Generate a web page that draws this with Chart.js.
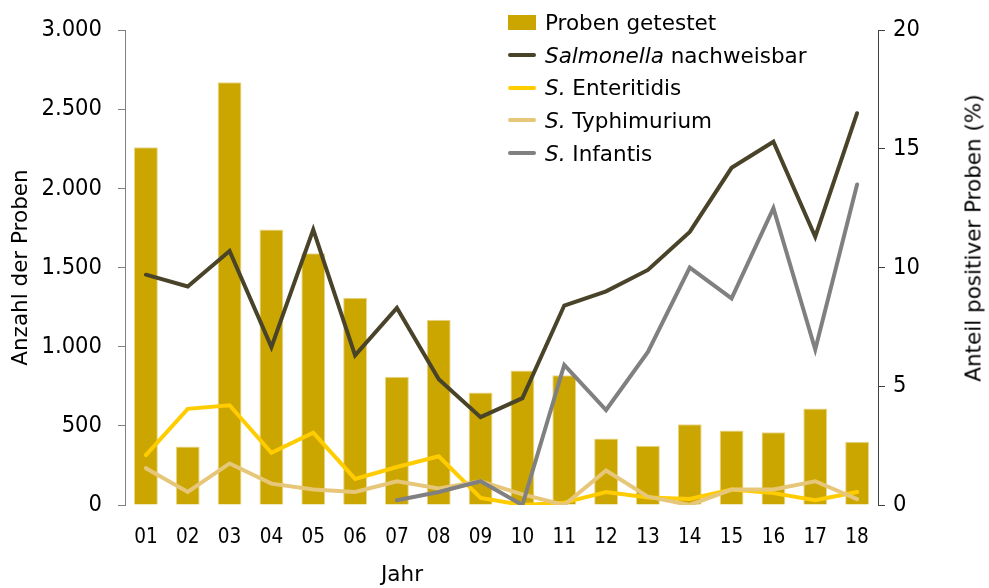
<!DOCTYPE html>
<html lang="de">

<head>
    <meta charset="UTF-8">
    <title>Salmonella Proben</title>
    <script src="https://cdn.jsdelivr.net/npm/chart.js"></script>
    <style>
        body {
            margin: 0;
            background: #fff;
            font-family: "DejaVu Sans", Verdana, sans-serif;
        }
        #wrap {
            position: relative;
            width: 989px;
            height: 588px;
        }
        #legend {
            position: absolute;
            left: 508px;
            top: 6px;
            font-size: 21.5px;
            color: #000;
        }
        #legend .row {
            height: 32.7px;
            display: flex;
            align-items: center;
        }
        #legend .sw {
            width: 28px;
            margin-right: 9px;
        }
        #xtitle {
            position: absolute;
            left: 381px;
            top: 561px;
            font-size: 21.5px;
        }
        #ytitle2 {
            position: absolute;
            left: 973px;
            top: 238px;
            font-size: 21.5px;
            white-space: nowrap;
            transform: translate(-50%, -50%) rotate(-90deg);
        }
    </style>
</head>

<body>
    <div id="wrap">
        <canvas id="chart" width="989" height="588"></canvas>
        <div id="legend"></div>
        <div id="xtitle">Jahr</div>
        <div id="ytitle2">Anteil positiver Proben (%)</div>
    </div>

    <script>
        // Jahre (x-Achse)
        const years = ['01', '02', '03', '04', '05', '06', '07', '08', '09', '10', '11', '12', '13', '14', '15', '16', '17', '18'];

        // Anzahl getesteter Proben (linke Achse)
        const probenGetestet = [2260, 370, 2670, 1740, 1590, 1310, 810, 1170, 710, 850, 820, 420, 375, 510, 470, 460, 610, 400];

        // Anteil positiver Proben in % (rechte Achse)
        const salmonella = [9.7, 9.2, 10.7, 6.65, 11.6, 6.3, 8.3, 5.3, 3.7, 4.5, 8.4, 9.0, 9.9, 11.5, 14.2, 15.3, 11.3, 16.5];
        const enteritidis = [2.1, 4.05, 4.2, 2.2, 3.05, 1.1, 1.6, 2.05, 0.3, 0.0, 0.1, 0.55, 0.32, 0.25, 0.65, 0.5, 0.2, 0.55];
        const typhimurium = [1.55, 0.55, 1.75, 0.9, 0.65, 0.55, 1.0, 0.7, 1.0, 0.45, 0.0, 1.45, 0.35, 0.0, 0.65, 0.65, 1.0, 0.25];
        const infantis = [null, null, null, null, null, null, 0.2, 0.55, 1.0, 0.0, 5.9, 4.0, 6.45, 10.0, 8.7, 12.5, 6.55, 13.5];

        const leftTicks = [0, 500, 1000, 1500, 2000, 2500, 3000];
        const rightTicks = [0, 5, 10, 15, 20];

        const colBar = '#CCA600';
        const colSalm = '#484329';
        const colEnt = '#FFCC00';
        const colTyph = '#E6C77A';
        const colInf = '#808080';

        const tickFont = '"DejaVu Sans Condensed", "DejaVu Sans", sans-serif';

        function fmtThousand(v) {
            return String(v).replace(/\B(?=(\d{3})+(?!\d))/g, '.');
        }

        const ctx = document.getElementById('chart').getContext('2d');
        Chart.defaults.font.family = '"DejaVu Sans", Verdana, sans-serif';
        Chart.defaults.color = '#000';

        const lineDefaults = {
            type: 'line',
            yAxisID: 'y1',
            borderWidth: 4,
            pointRadius: 0,
            tension: 0,
            fill: false,
            borderJoinStyle: 'miter',
            borderCapStyle: 'round',
            spanGaps: false
        };

        const chart = new Chart(ctx, {
            data: {
                labels: years,
                datasets: [
                    { ...lineDefaults, label: 'S. Infantis', data: infantis, borderColor: colInf, order: 1 },
                    { ...lineDefaults, label: 'S. Typhimurium', data: typhimurium, borderColor: colTyph, order: 2 },
                    { ...lineDefaults, label: 'S. Enteritidis', data: enteritidis, borderColor: colEnt, order: 3 },
                    { ...lineDefaults, label: 'Salmonella nachweisbar', data: salmonella, borderColor: colSalm, order: 4 },
                    {
                        type: 'bar',
                        label: 'Proben getestet',
                        data: probenGetestet,
                        yAxisID: 'y',
                        backgroundColor: colBar,
                        borderColor: '#E9D58C',
                        borderWidth: 1,
                        categoryPercentage: 1,
                        barPercentage: 0.57,
                        order: 5
                    }
                ]
            },
            options: {
                responsive: false,
                animation: false,
                layout: { padding: { top: 27, left: 0, right: 0, bottom: 0 } },
                plugins: {
                    legend: { display: false },
                    tooltip: { enabled: false }
                },
                scales: {
                    x: {
                        grid: { display: false, drawTicks: false },
                        border: { display: false },
                        ticks: { font: { family: tickFont, size: 20.5 }, padding: 20 },
                        afterFit(s) { s.height = 83; }
                    },
                    y: {
                        position: 'left',
                        min: 0,
                        max: 3000,
                        afterBuildTicks(s) { s.ticks = leftTicks.map(v => ({ value: v })); },
                        ticks: { font: { family: tickFont, size: 23.5 }, padding: 16, callback: v => fmtThousand(v) },
                        grid: { drawOnChartArea: false, drawTicks: true, tickLength: 7, color: '#808080' },
                        border: { display: true, color: '#808080', width: 1 },
                        title: { display: true, text: 'Anzahl der Proben', font: { size: 21.5 }, padding: { top: 9, bottom: 0 } },
                        afterFit(s) { s.width = 125; }
                    },
                    y1: {
                        position: 'right',
                        min: 0,
                        max: 20,
                        afterBuildTicks(s) { s.ticks = rightTicks.map(v => ({ value: v })); },
                        ticks: { font: { family: tickFont, size: 23.5 }, padding: 8 },
                        grid: { drawOnChartArea: false, drawTicks: true, tickLength: 7, color: '#404040' },
                        border: { display: true, color: '#404040', width: 1 },
                        afterFit(s) { s.width = 111; }
                    }
                }
            }
        });

        // Legende mit kursiven Gattungsnamen
        const legendItems = [
            { kind: 'bar', color: colBar, html: 'Proben getestet' },
            { kind: 'line', color: colSalm, html: '<i>Salmonella</i> nachweisbar' },
            { kind: 'line', color: colEnt, html: '<i>S.</i> Enteritidis' },
            { kind: 'line', color: colTyph, html: '<i>S.</i> Typhimurium' },
            { kind: 'line', color: colInf, html: '<i>S.</i> Infantis' }
        ];
        const legend = document.getElementById('legend');
        legendItems.forEach(it => {
            const row = document.createElement('div');
            row.className = 'row';
            const sw = document.createElement('span');
            sw.className = 'sw';
            sw.style.background = it.color;
            sw.style.height = it.kind === 'bar' ? '15px' : '4px';
            if (it.kind === 'line') sw.style.borderRadius = '2px';
            const txt = document.createElement('span');
            txt.innerHTML = it.html;
            row.appendChild(sw);
            row.appendChild(txt);
            legend.appendChild(row);
        });
    </script>
</body>

</html>
